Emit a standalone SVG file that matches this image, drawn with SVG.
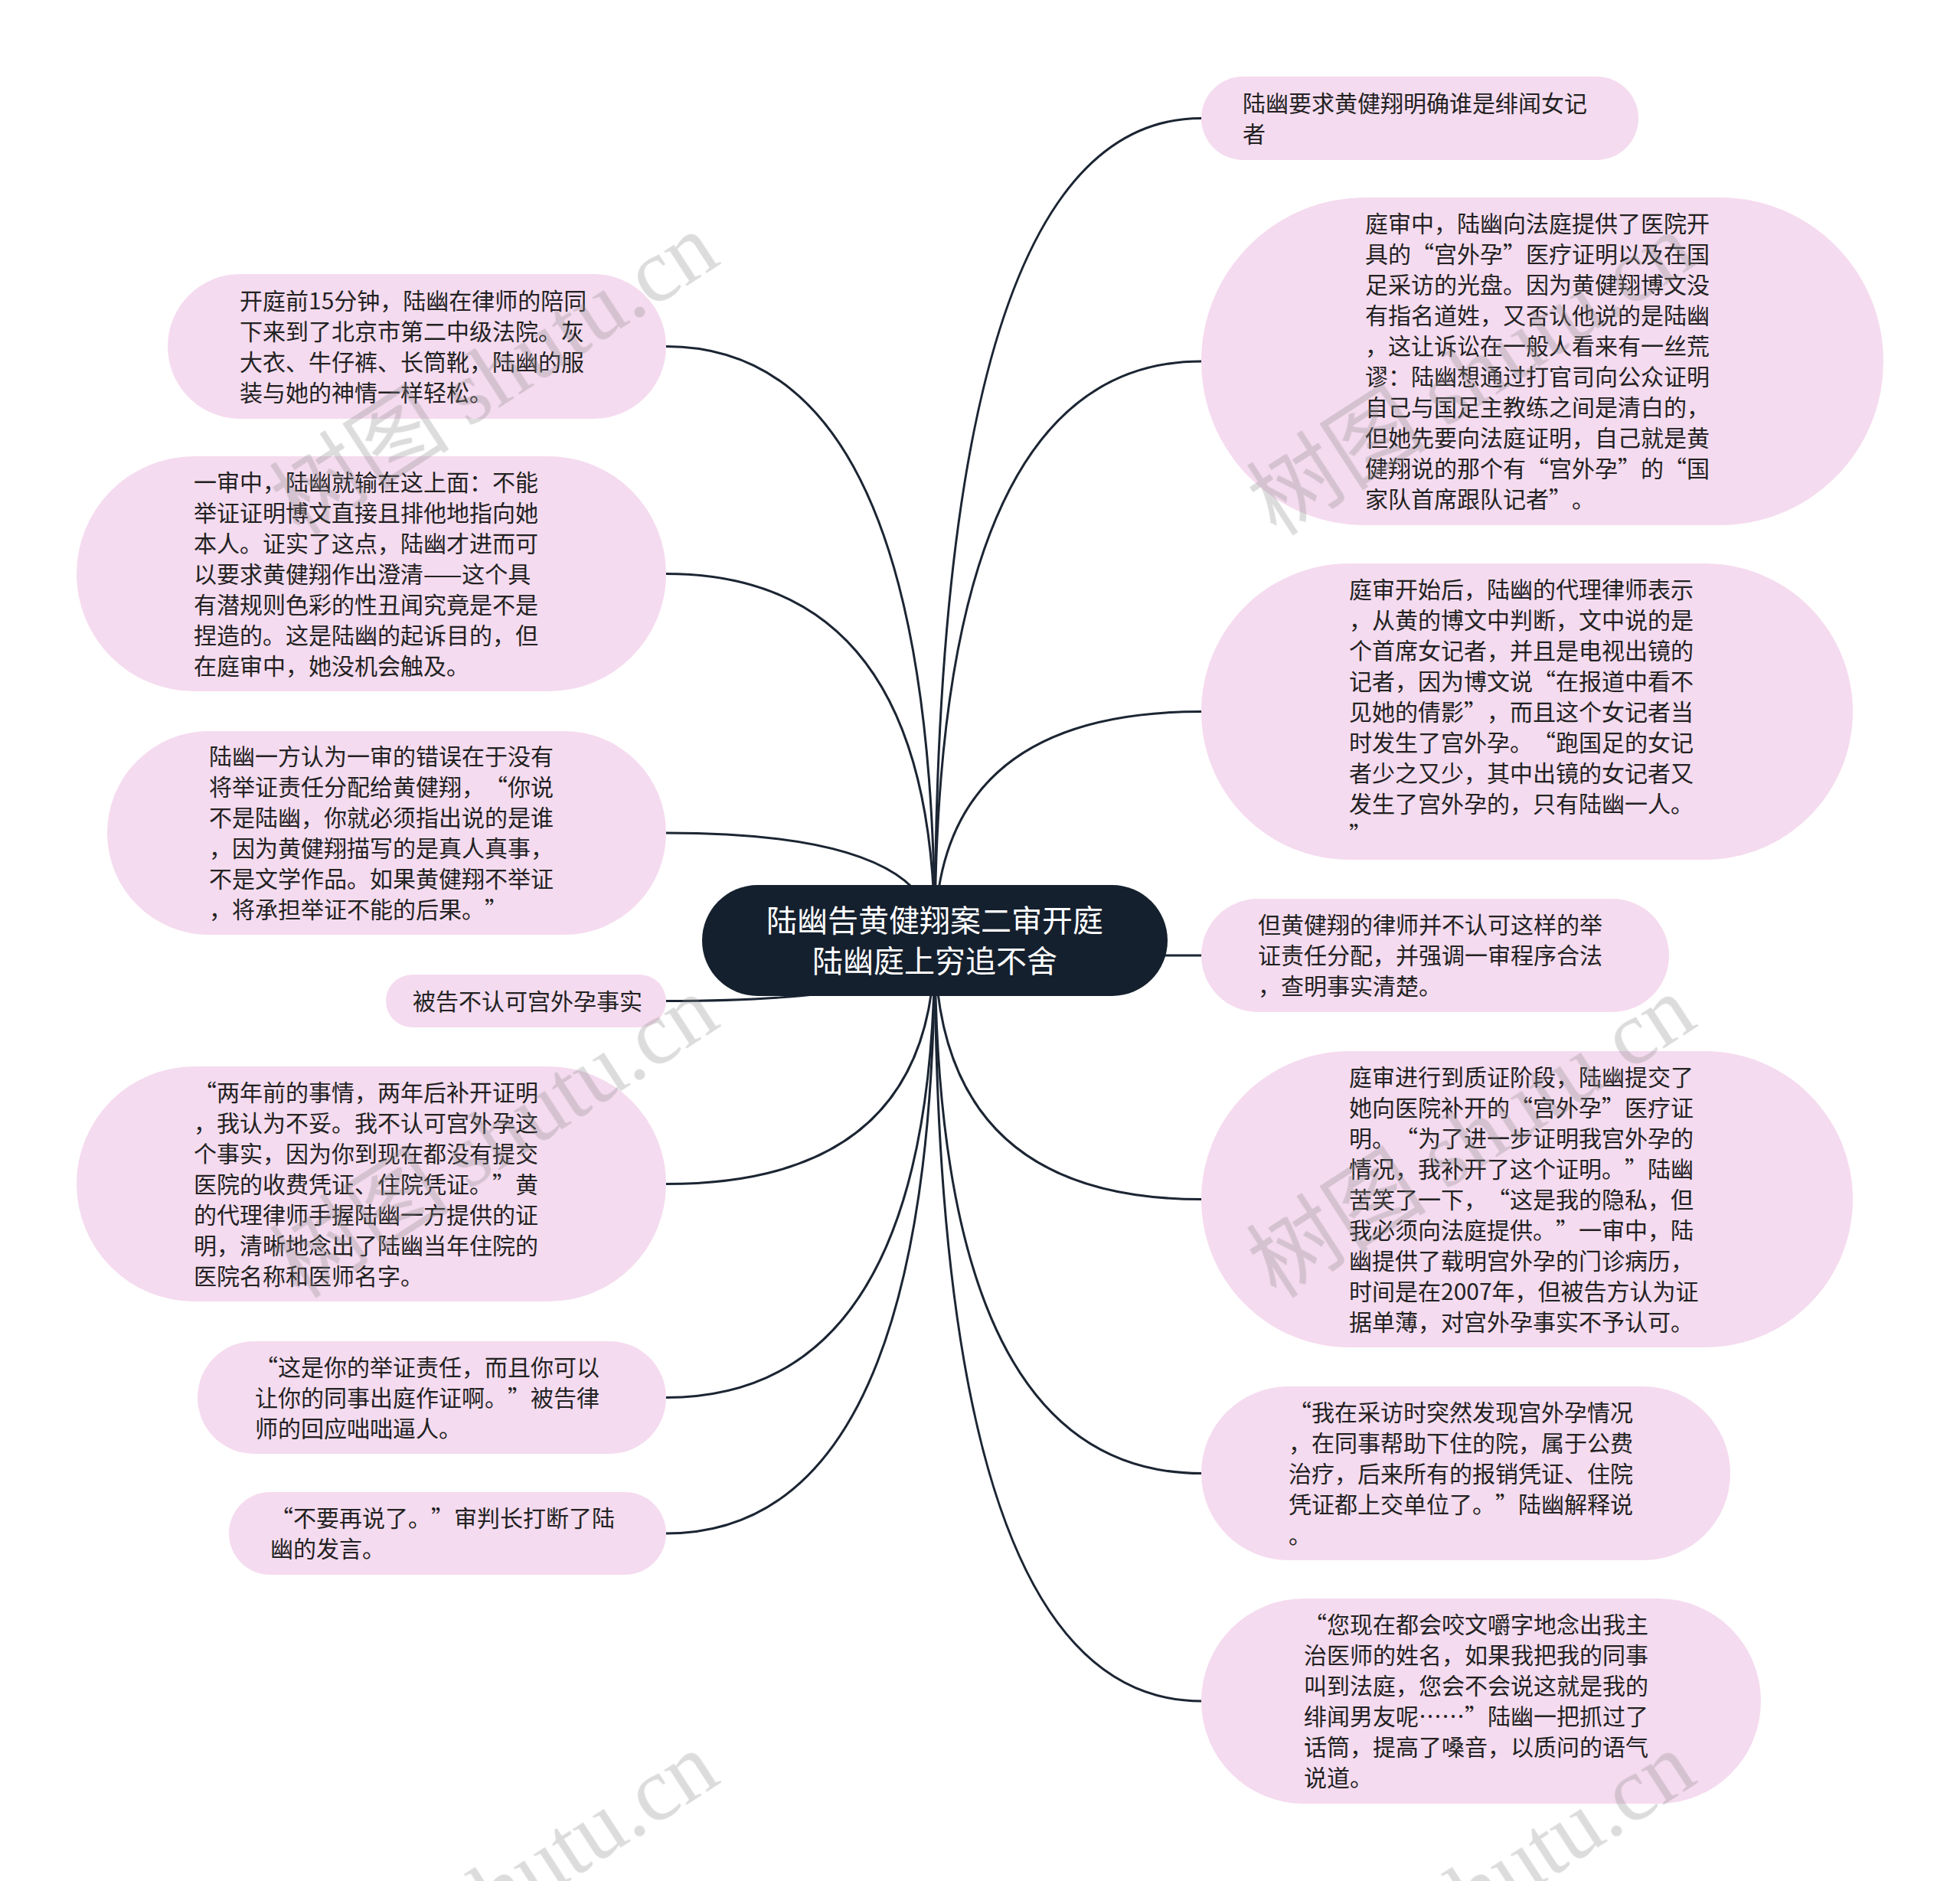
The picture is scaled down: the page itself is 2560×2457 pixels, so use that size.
<svg xmlns="http://www.w3.org/2000/svg" width="2560" height="2457" viewBox="0 0 2560 2457">
<style>
.bg{fill:#ffffff}
.n rect{fill:#f5dbef}
.t{font-family:"Noto Sans CJK SC","Noto Sans",sans-serif;font-size:30px;fill:#222222;text-spacing-trim:space-all}
.c path{fill:none;stroke:#1b2533;stroke-width:3}
.root rect{fill:#15202e}
.rt{font-family:"Noto Sans CJK SC","Noto Sans",sans-serif;font-size:40px;fill:#ffffff;text-anchor:middle}
.wm{font-size:118px;fill:#8a8a8a;opacity:0.3}
.wm1{font-family:"Noto Sans CJK SC",sans-serif}
.wm2{font-family:"Liberation Serif",serif}
</style>
<rect class="bg" x="0" y="0" width="2560" height="2457"/>
<g class="c" id="connectors">
<path d="M1221,1229 Q1221,154.5 1569,154.5"/>
<path d="M1221,1229 Q1221,472 1569,472"/>
<path d="M1221,1229 Q1221,929.5 1569,929.5"/>
<path d="M1221,1229 Q1221,1248 1569,1248"/>
<path d="M1221,1229 Q1221,1566.5 1569,1566.5"/>
<path d="M1221,1229 Q1221,1924.5 1569,1924.5"/>
<path d="M1221,1229 Q1221,2222 1569,2222"/>
<path d="M1221,1229 Q1221,452.5 870,452.5"/>
<path d="M1221,1229 Q1221,749.5 870,749.5"/>
<path d="M1221,1229 Q1221,1088 870,1088"/>
<path d="M1221,1229 Q1221,1307.5 870,1307.5"/>
<path d="M1221,1229 Q1221,1546.5 870,1546.5"/>
<path d="M1221,1229 Q1221,1825.5 870,1825.5"/>
<path d="M1221,1229 Q1221,2003 870,2003"/>
</g>
<g class="root" id="root">
<rect x="917" y="1156" width="608" height="145" rx="72.5" ry="72.5"/>
<text class="rt"><tspan x="1221" y="1217">陆幽告黄健翔案二审开庭</tspan><tspan x="1221" y="1270">陆幽庭上穷追不舍</tspan></text>
</g>
<g class="n" id="r1">
<rect x="1569" y="100" width="571" height="109" rx="54.5" ry="54.5"/>
<text class="t"><tspan x="1623" y="145.5">陆幽要求黄健翔明确谁是绯闻女记</tspan><tspan x="1623" y="185.5">者</tspan></text>
</g>
<g class="n" id="r2">
<rect x="1569" y="258" width="891" height="428" rx="214" ry="214"/>
<text class="t"><tspan x="1783" y="303">庭审中，陆幽向法庭提供了医院开</tspan><tspan x="1783" y="343">具的“宫外孕”医疗证明以及在国</tspan><tspan x="1783" y="383">足采访的光盘。因为黄健翔博文没</tspan><tspan x="1783" y="423">有指名道姓，又否认他说的是陆幽</tspan><tspan x="1783" y="463">，这让诉讼在一般人看来有一丝荒</tspan><tspan x="1783" y="503">谬：陆幽想通过打官司向公众证明</tspan><tspan x="1783" y="543">自己与国足主教练之间是清白的，</tspan><tspan x="1783" y="583">但她先要向法庭证明，自己就是黄</tspan><tspan x="1783" y="623">健翔说的那个有“宫外孕”的“国</tspan><tspan x="1783" y="663">家队首席跟队记者”。</tspan></text>
</g>
<g class="n" id="r3">
<rect x="1569" y="736" width="851" height="387" rx="193.5" ry="193.5"/>
<text class="t"><tspan x="1762" y="780.5">庭审开始后，陆幽的代理律师表示</tspan><tspan x="1762" y="820.5">，从黄的博文中判断，文中说的是</tspan><tspan x="1762" y="860.5">个首席女记者，并且是电视出镜的</tspan><tspan x="1762" y="900.5">记者，因为博文说“在报道中看不</tspan><tspan x="1762" y="940.5">见她的倩影”，而且这个女记者当</tspan><tspan x="1762" y="980.5">时发生了宫外孕。“跑国足的女记</tspan><tspan x="1762" y="1020.5">者少之又少，其中出镜的女记者又</tspan><tspan x="1762" y="1060.5">发生了宫外孕的，只有陆幽一人。</tspan><tspan x="1762" y="1100.5">”</tspan></text>
</g>
<g class="n" id="r4">
<rect x="1569" y="1174" width="611" height="148" rx="74" ry="74"/>
<text class="t"><tspan x="1643" y="1219">但黄健翔的律师并不认可这样的举</tspan><tspan x="1643" y="1259">证责任分配，并强调一审程序合法</tspan><tspan x="1643" y="1299">，查明事实清楚。</tspan></text>
</g>
<g class="n" id="r5">
<rect x="1569" y="1373" width="851" height="387" rx="193.5" ry="193.5"/>
<text class="t"><tspan x="1762" y="1417.5">庭审进行到质证阶段，陆幽提交了</tspan><tspan x="1762" y="1457.5">她向医院补开的“宫外孕”医疗证</tspan><tspan x="1762" y="1497.5">明。“为了进一步证明我宫外孕的</tspan><tspan x="1762" y="1537.5">情况，我补开了这个证明。”陆幽</tspan><tspan x="1762" y="1577.5">苦笑了一下，“这是我的隐私，但</tspan><tspan x="1762" y="1617.5">我必须向法庭提供。”一审中，陆</tspan><tspan x="1762" y="1657.5">幽提供了载明宫外孕的门诊病历，</tspan><tspan x="1762" y="1697.5">时间是在2007年，但被告方认为证</tspan><tspan x="1762" y="1737.5">据单薄，对宫外孕事实不予认可。</tspan></text>
</g>
<g class="n" id="r6">
<rect x="1569" y="1811" width="691" height="227" rx="113.5" ry="113.5"/>
<text class="t"><tspan x="1683" y="1855.5">“我在采访时突然发现宫外孕情况</tspan><tspan x="1683" y="1895.5">，在同事帮助下住的院，属于公费</tspan><tspan x="1683" y="1935.5">治疗，后来所有的报销凭证、住院</tspan><tspan x="1683" y="1975.5">凭证都上交单位了。”陆幽解释说</tspan><tspan x="1683" y="2015.5">。</tspan></text>
</g>
<g class="n" id="r7">
<rect x="1569" y="2088" width="731" height="268" rx="134" ry="134"/>
<text class="t"><tspan x="1703" y="2133">“您现在都会咬文嚼字地念出我主</tspan><tspan x="1703" y="2173">治医师的姓名，如果我把我的同事</tspan><tspan x="1703" y="2213">叫到法庭，您会不会说这就是我的</tspan><tspan x="1703" y="2253">绯闻男友呢……”陆幽一把抓过了</tspan><tspan x="1703" y="2293">话筒，提高了嗓音，以质问的语气</tspan><tspan x="1703" y="2333">说道。</tspan></text>
</g>
<g class="n" id="l1">
<rect x="219" y="358" width="651" height="189" rx="94.5" ry="94.5"/>
<text class="t"><tspan x="313" y="403.5">开庭前15分钟，陆幽在律师的陪同</tspan><tspan x="313" y="443.5">下来到了北京市第二中级法院。灰</tspan><tspan x="313" y="483.5">大衣、牛仔裤、长筒靴，陆幽的服</tspan><tspan x="313" y="523.5">装与她的神情一样轻松。</tspan></text>
</g>
<g class="n" id="l2">
<rect x="100" y="596" width="770" height="307" rx="153.5" ry="153.5"/>
<text class="t"><tspan x="253" y="640.5">一审中，陆幽就输在这上面：不能</tspan><tspan x="253" y="680.5">举证证明博文直接且排他地指向她</tspan><tspan x="253" y="720.5">本人。证实了这点，陆幽才进而可</tspan><tspan x="253" y="760.5">以要求黄健翔作出澄清——这个具</tspan><tspan x="253" y="800.5">有潜规则色彩的性丑闻究竟是不是</tspan><tspan x="253" y="840.5">捏造的。这是陆幽的起诉目的，但</tspan><tspan x="253" y="880.5">在庭审中，她没机会触及。</tspan></text>
</g>
<g class="n" id="l3">
<rect x="140" y="955" width="730" height="266" rx="133" ry="133"/>
<text class="t"><tspan x="273" y="999">陆幽一方认为一审的错误在于没有</tspan><tspan x="273" y="1039">将举证责任分配给黄健翔，“你说</tspan><tspan x="273" y="1079">不是陆幽，你就必须指出说的是谁</tspan><tspan x="273" y="1119">，因为黄健翔描写的是真人真事，</tspan><tspan x="273" y="1159">不是文学作品。如果黄健翔不举证</tspan><tspan x="273" y="1199">，将承担举证不能的后果。”</tspan></text>
</g>
<g class="n" id="l4">
<rect x="504" y="1273" width="366" height="69" rx="34.5" ry="34.5"/>
<text class="t"><tspan x="539" y="1318.5">被告不认可宫外孕事实</tspan></text>
</g>
<g class="n" id="l5">
<rect x="100" y="1393" width="770" height="307" rx="153.5" ry="153.5"/>
<text class="t"><tspan x="253" y="1437.5">“两年前的事情，两年后补开证明</tspan><tspan x="253" y="1477.5">，我认为不妥。我不认可宫外孕这</tspan><tspan x="253" y="1517.5">个事实，因为你到现在都没有提交</tspan><tspan x="253" y="1557.5">医院的收费凭证、住院凭证。”黄</tspan><tspan x="253" y="1597.5">的代理律师手握陆幽一方提供的证</tspan><tspan x="253" y="1637.5">明，清晰地念出了陆幽当年住院的</tspan><tspan x="253" y="1677.5">医院名称和医师名字。</tspan></text>
</g>
<g class="n" id="l6">
<rect x="258" y="1752" width="612" height="147" rx="73.5" ry="73.5"/>
<text class="t"><tspan x="333" y="1796.5">“这是你的举证责任，而且你可以</tspan><tspan x="333" y="1836.5">让你的同事出庭作证啊。”被告律</tspan><tspan x="333" y="1876.5">师的回应咄咄逼人。</tspan></text>
</g>
<g class="n" id="l7">
<rect x="299" y="1949" width="571" height="108" rx="54" ry="54"/>
<text class="t"><tspan x="353" y="1994">“不要再说了。”审判长打断了陆</tspan><tspan x="353" y="2034">幽的发言。</tspan></text>
</g>
<g id="watermarks" class="wm">
<text transform="translate(944,343) rotate(-33)" text-anchor="end"><tspan class="wm1">树图 </tspan><tspan class="wm2">shutu.cn</tspan></text>
<text transform="translate(2220,343) rotate(-33)" text-anchor="end"><tspan class="wm1">树图 </tspan><tspan class="wm2">shutu.cn</tspan></text>
<text transform="translate(944,1339) rotate(-33)" text-anchor="end"><tspan class="wm1">树图 </tspan><tspan class="wm2">shutu.cn</tspan></text>
<text transform="translate(2220,1339) rotate(-33)" text-anchor="end"><tspan class="wm1">树图 </tspan><tspan class="wm2">shutu.cn</tspan></text>
<text transform="translate(944,2327) rotate(-33)" text-anchor="end"><tspan class="wm1">树图 </tspan><tspan class="wm2">shutu.cn</tspan></text>
<text transform="translate(2220,2327) rotate(-33)" text-anchor="end"><tspan class="wm1">树图 </tspan><tspan class="wm2">shutu.cn</tspan></text>
</g>
</svg>
